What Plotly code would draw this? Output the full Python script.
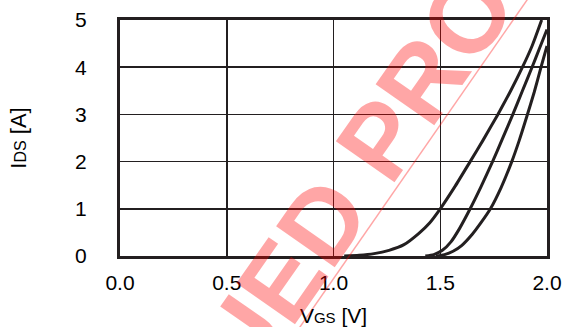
import plotly.graph_objects as go

# Transfer characteristics (VGS in V, IDS in A)
vgs_1 = [1.05, 1.12, 1.19, 1.26, 1.33, 1.40, 1.45, 1.50, 1.57, 1.64, 1.70, 1.77, 1.83, 1.885, 1.93, 1.975]
ids_1 = [0.0, 0.015, 0.05, 0.12, 0.24, 0.48, 0.70, 1.0, 1.48, 2.0, 2.45, 3.0, 3.5, 4.0, 4.45, 5.0]

vgs_2 = [1.43, 1.47, 1.51, 1.55, 1.59, 1.64, 1.69, 1.745, 1.79, 1.84, 1.885, 1.93, 1.965, 2.0]
ids_2 = [0.0, 0.03, 0.12, 0.30, 0.58, 1.0, 1.46, 2.0, 2.47, 3.0, 3.5, 4.0, 4.4, 4.8]

vgs_3 = [1.48, 1.52, 1.56, 1.60, 1.65, 1.69, 1.735, 1.785, 1.835, 1.87, 1.905, 1.94, 1.972, 2.0]
ids_3 = [0.0, 0.03, 0.10, 0.22, 0.46, 0.70, 1.0, 1.45, 2.0, 2.45, 2.95, 3.47, 4.0, 4.45]

x_ticks = [0.0, 0.5, 1.0, 1.5, 2.0]
y_ticks = [0, 1, 2, 3, 4, 5]

FONT = "Arial, Liberation Sans, sans-serif"
INK = "#231f20"
W, H = 563, 327
ML, MR, MT, MB = 120, 16, 20, 71
PW, PH = W - ML - MR, H - MT - MB

def px2paper(px, py):
    return (px - ML) / PW, (H - MB - py) / PH

fig = go.Figure()
for xs, ys in [(vgs_1, ids_1), (vgs_2, ids_2), (vgs_3, ids_3)]:
    fig.add_trace(go.Scatter(x=xs, y=ys, mode="lines",
                             line=dict(color=INK, width=3, shape="spline", smoothing=0.6),
                             showlegend=False, hoverinfo="skip"))

axis_common = dict(showgrid=True, gridcolor=INK, gridwidth=1.5,
                   showline=True, linecolor=INK, linewidth=3, mirror=True,
                   zeroline=False, ticks="outside", tickcolor="rgba(0,0,0,0)",
                   automargin=False,
                   tickfont=dict(family=FONT, size=21, color="#000"))

fig.update_xaxes(range=[0, 2], tickvals=x_ticks, ticktext=[f"{v:.1f}" for v in x_ticks],
                 ticklen=6,
                 title=dict(text="V<span style='font-size:15px'>GS</span> [V]",
                            font=dict(family=FONT, size=21, color="#000"), standoff=16),
                 **axis_common)
fig.update_yaxes(range=[0, 5], tickvals=y_ticks, ticktext=[str(v) for v in y_ticks],
                 ticklen=26,
                 title=dict(text="I<span style='font-size:16px'>DS</span> [A]",
                            font=dict(family=FONT, size=22, color="#000"), standoff=43),
                 **axis_common)

# Watermark
wx, wy = px2paper(273, 293)
fig.add_annotation(x=wx, y=wy, xref="paper", yref="paper", xanchor="center", yanchor="middle",
                   text="<b>DISCONTINUED PRODUCT</b>", showarrow=False, textangle=-55,
                   font=dict(family=FONT, size=104, color="rgba(255,0,0,0.35)"))
x0, y0 = px2paper(293, 337)
x1, y1 = px2paper(534, -10)
fig.add_shape(type="line", xref="paper", yref="paper", x0=x0, y0=y0, x1=x1, y1=y1,
              line=dict(color="rgba(255,0,0,0.35)", width=1.5), layer="above")

fig.update_layout(width=W, height=H, margin=dict(l=ML, r=MR, t=MT, b=MB),
                  paper_bgcolor="white", plot_bgcolor="white")

fig.write_html("out.html", config={"displayModeBar": False, "staticPlot": True},
               post_script="document.body.style.margin='0';document.body.style.padding='0';"
                           "document.body.style.overflow='hidden';")
